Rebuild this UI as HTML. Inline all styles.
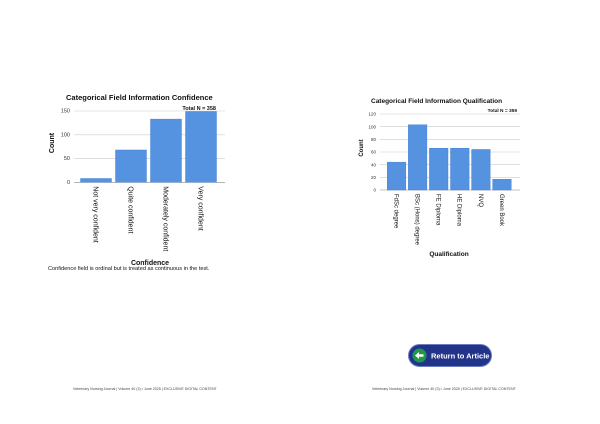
<!DOCTYPE html>
<html><head><meta charset="utf-8"><style>
html,body{margin:0;padding:0;background:#fff;width:600px;height:424px;overflow:hidden;font-family:"Liberation Sans",sans-serif}
svg text{font-family:"Liberation Sans",sans-serif}
</style></head><body>
<svg width="600" height="424" viewBox="0 0 600 424" xmlns="http://www.w3.org/2000/svg">
<g id="c1">
<text x="66" y="100" font-size="7.5" font-weight="bold" fill="#111">Categorical Field Information Confidence</text>
<text x="216" y="110" font-size="5.5" font-weight="bold" text-anchor="end" fill="#111">Total N =   358</text>
<text transform="translate(54,143) rotate(-90)" font-size="7" font-weight="bold" text-anchor="middle" fill="#111">Count</text>
<text x="150" y="265" font-size="7" font-weight="bold" text-anchor="middle" fill="#111">Confidence</text>
<text x="48" y="270" font-size="5.6" fill="#111">Confidence field is ordinal but is treated as continuous in the test.</text>
</g>
<g id="c2">
<text x="371" y="103" font-size="6.5" font-weight="bold" fill="#111">Categorical Field Information Qualification</text>
<text x="517" y="112" font-size="4.8" font-weight="bold" text-anchor="end" fill="#111">Total N =   359</text>
<text transform="translate(363,148) rotate(-90)" font-size="6" font-weight="bold" text-anchor="middle" fill="#111">Count</text>
<text x="449" y="256" font-size="6.5" font-weight="bold" text-anchor="middle" fill="#111">Qualification</text>
</g>
<text x="73" y="390" font-size="3.6" fill="#444">Veterinary Nursing Journal  |  Volume 40 (3)  • June 2025  |  EXCLUSIVE DIGITAL CONTENT</text>
<text x="372" y="390" font-size="3.6" fill="#444">Veterinary Nursing Journal  |  Volume 40 (3)  • June 2025  |  EXCLUSIVE DIGITAL CONTENT</text>
<g>
<rect x="408.5" y="344.5" width="83" height="22" rx="11" fill="#22338a" stroke="#6a7ec0" stroke-width="1"/>
<circle cx="419.5" cy="355.5" r="7" fill="#1c9a4a"/>
<path d="M415 355.5 L419 352 L419 354.3 L423.5 354.3 L423.5 356.7 L419 356.7 L419 359 Z" fill="#fff"/>
<text x="431" y="358.5" font-size="7.5" font-weight="bold" fill="#fff">Return to Article</text>
</g>
</svg>
<script>
const ns="http://www.w3.org/2000/svg";
const confCats=["Not very confident","Quite confident","Moderately confident","Very confident"];
const confVals=[8,68,133,149];
const confTicks=[0,50,100,150];
const qualCats=["FdSc degree","BSc (Hons) degree","FE Diploma","HE Diploma","NVQ","Green Book"];
const qualVals=[44,103,66,66,64,17];
const qualTicks=[0,20,40,60,80,100,120];
function mk(tag,attrs,parent){const e=document.createElementNS(ns,tag);for(const k in attrs)e.setAttribute(k,attrs[k]);parent.appendChild(e);return e;}
function draw(g,cats,vals,ticks,o){
  const y=v=>o.y0-(v-o.vmin)/(o.vmax-o.vmin)*(o.y0-o.y1);
  const pitch=(o.b1-o.b0)/cats.length;
  ticks.forEach(t=>{
    const l=mk('line',{x1:o.gx0,x2:o.gx1,y1:y(t),y2:y(t),stroke:t===0?'#888':'#ccc','stroke-width':0.6},g);
    
    
    const tx=mk('text',{x:o.gx0-4,y:y(t)+1.6,'font-size':o.tf,'text-anchor':'end',fill:'#333'},g);
    tx.textContent=t;
    
    
  });
  cats.forEach((c,i)=>{
    const x=o.b0+i*pitch+(pitch-o.bw)/2;
    const r=mk('rect',{x:x,y:y(vals[i]),width:o.bw,height:o.y0-y(vals[i]),fill:'#5592e0',stroke:'#3f7ad0','stroke-width':0.4},g);
    
    
    const t=mk('text',{transform:`translate(${x+o.bw/2-o.cf*0.35},${o.y0+4}) rotate(90)`,'font-size':o.cf,fill:'#111'},g);
    t.textContent=c;
    
    
  });
}
draw(document.getElementById('c1'),confCats,confVals,confTicks,{y0:182.3,y1:111,vmin:0,vmax:150,gx0:74,gx1:225,b0:78.5,b1:218.5,bw:31,tf:5.5,cf:7});
draw(document.getElementById('c2'),qualCats,qualVals,qualTicks,{y0:190,y1:114,vmin:0,vmax:120,gx0:380,gx1:520,b0:386,b1:512.5,bw:18.6,tf:4.5,cf:6});
</script>
</body></html>
